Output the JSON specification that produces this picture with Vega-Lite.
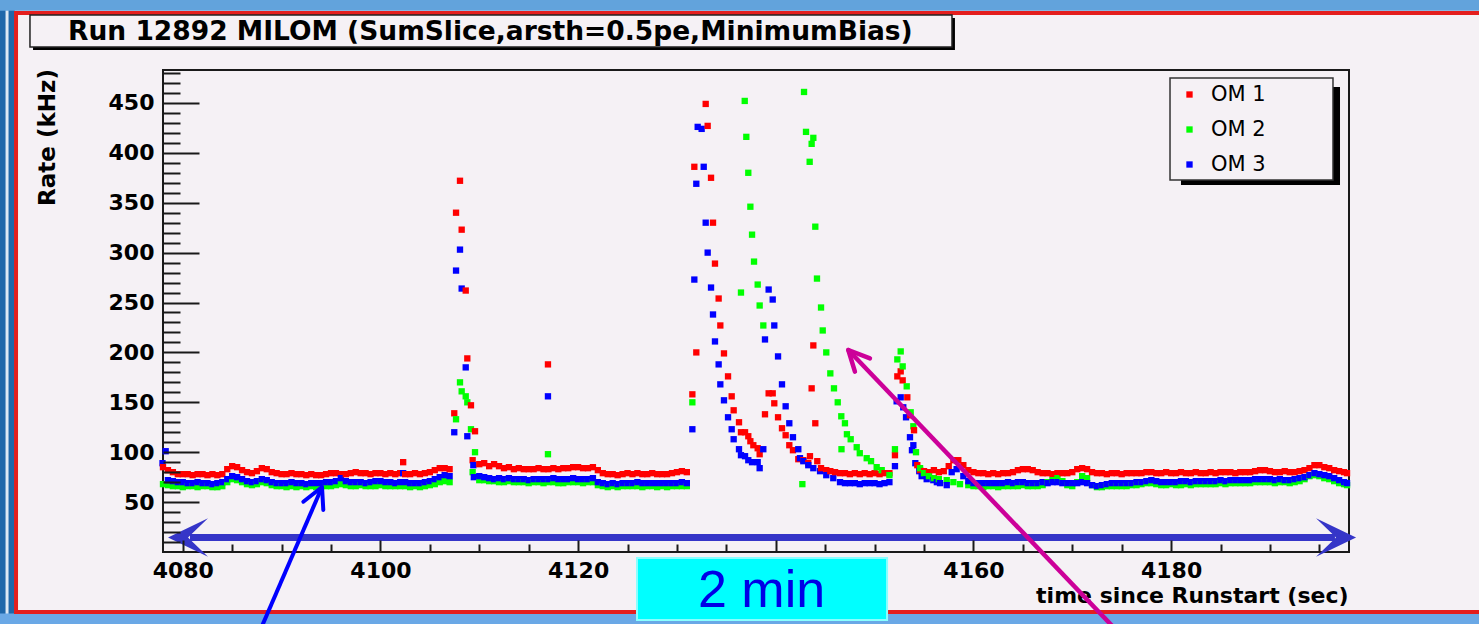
{
  "$schema": "https://vega.github.io/schema/vega-lite/v6.json",
  "width": 1186,
  "height": 482,
  "autosize": {"type": "none"},
  "padding": {"left": 163, "top": 70, "right": 130, "bottom": 72},
  "background": "#f5f1f5",
  "config": {
    "view": {"stroke": "#1a1a1a", "strokeWidth": 2, "fill": null},
    "axis": {"grid": false, "domain": false}
  },
  "resolve": {"axis": {"x": "independent", "y": "independent"}},
  "datasets": {
    "rates": [
      {"t":4077.95,"OM 3":89},
      {"t":4078.0,"OM 1":85,"OM 2":68},
      {"t":4078.27,"OM 3":101},
      {"t":4078.5,"OM 1":82,"OM 2":67,"OM 3":72},
      {"t":4079.0,"OM 1":80,"OM 2":66,"OM 3":71},
      {"t":4079.5,"OM 1":78,"OM 2":66,"OM 3":70},
      {"t":4080.0,"OM 1":78,"OM 2":65,"OM 3":70},
      {"t":4080.5,"OM 1":78,"OM 2":66,"OM 3":69},
      {"t":4081.0,"OM 1":77,"OM 2":66,"OM 3":69},
      {"t":4081.5,"OM 1":78,"OM 2":65,"OM 3":70},
      {"t":4082.0,"OM 1":78,"OM 2":66,"OM 3":69},
      {"t":4082.5,"OM 1":77,"OM 2":66,"OM 3":69},
      {"t":4083.0,"OM 1":78,"OM 2":65,"OM 3":68},
      {"t":4083.5,"OM 1":77,"OM 2":65,"OM 3":69},
      {"t":4084.0,"OM 1":78,"OM 2":66,"OM 3":70},
      {"t":4084.5,"OM 1":83,"OM 2":70,"OM 3":73},
      {"t":4085.0,"OM 1":86,"OM 2":73,"OM 3":76},
      {"t":4085.5,"OM 1":85,"OM 2":72,"OM 3":75},
      {"t":4086.0,"OM 1":82,"OM 2":70,"OM 3":73},
      {"t":4086.5,"OM 1":80,"OM 2":68,"OM 3":71},
      {"t":4087.0,"OM 1":79,"OM 2":67,"OM 3":70},
      {"t":4087.5,"OM 1":81,"OM 2":68,"OM 3":71},
      {"t":4088.0,"OM 1":84,"OM 2":70,"OM 3":73},
      {"t":4088.5,"OM 1":83,"OM 2":69,"OM 3":72},
      {"t":4089.0,"OM 1":80,"OM 2":67,"OM 3":70},
      {"t":4089.5,"OM 1":79,"OM 2":66,"OM 3":69},
      {"t":4090.0,"OM 1":78,"OM 2":66,"OM 3":69},
      {"t":4090.5,"OM 1":78,"OM 2":65,"OM 3":69},
      {"t":4091.0,"OM 1":79,"OM 2":66,"OM 3":70},
      {"t":4091.5,"OM 1":78,"OM 2":65,"OM 3":69},
      {"t":4092.0,"OM 1":78,"OM 2":66,"OM 3":69},
      {"t":4092.5,"OM 1":77,"OM 2":65,"OM 3":68},
      {"t":4093.0,"OM 1":78,"OM 2":66,"OM 3":69},
      {"t":4093.5,"OM 1":77,"OM 2":65,"OM 3":69},
      {"t":4094.0,"OM 1":77,"OM 2":66,"OM 3":69},
      {"t":4094.5,"OM 1":78,"OM 2":66,"OM 3":70},
      {"t":4095.0,"OM 1":79,"OM 2":66,"OM 3":70},
      {"t":4095.5,"OM 1":79,"OM 2":67,"OM 3":71},
      {"t":4096.0,"OM 1":78,"OM 2":68,"OM 3":74},
      {"t":4096.5,"OM 1":78,"OM 2":67,"OM 3":71},
      {"t":4097.0,"OM 1":79,"OM 2":66,"OM 3":70},
      {"t":4097.5,"OM 1":80,"OM 2":66,"OM 3":70},
      {"t":4098.0,"OM 1":79,"OM 2":67,"OM 3":70},
      {"t":4098.5,"OM 1":79,"OM 2":66,"OM 3":69},
      {"t":4099.0,"OM 1":78,"OM 2":66,"OM 3":70},
      {"t":4099.5,"OM 1":79,"OM 2":66,"OM 3":71},
      {"t":4100.0,"OM 1":79,"OM 2":67,"OM 3":71},
      {"t":4100.5,"OM 1":78,"OM 2":66,"OM 3":70},
      {"t":4101.0,"OM 1":79,"OM 2":66,"OM 3":70},
      {"t":4101.5,"OM 1":78,"OM 2":66,"OM 3":69},
      {"t":4102.0,"OM 1":79,"OM 2":66,"OM 3":70},
      {"t":4102.3,"OM 1":90,"OM 3":79},
      {"t":4102.5,"OM 1":78,"OM 2":66,"OM 3":70},
      {"t":4103.0,"OM 1":78,"OM 2":65,"OM 3":69},
      {"t":4103.5,"OM 1":79,"OM 2":66,"OM 3":69},
      {"t":4104.0,"OM 1":78,"OM 2":65,"OM 3":69},
      {"t":4104.5,"OM 1":79,"OM 2":66,"OM 3":70},
      {"t":4105.0,"OM 1":80,"OM 2":67,"OM 3":71},
      {"t":4105.5,"OM 1":82,"OM 2":68,"OM 3":73},
      {"t":4106.0,"OM 1":84,"OM 2":70,"OM 3":75},
      {"t":4106.5,"OM 1":84,"OM 2":71,"OM 3":77},
      {"t":4107.0,"OM 1":83,"OM 2":70,"OM 3":76},
      {"t":4107.47,"OM 1":139,"OM 3":120},
      {"t":4107.65,"OM 1":340,"OM 2":133,"OM 3":282},
      {"t":4108.05,"OM 1":372,"OM 2":170,"OM 3":303},
      {"t":4108.22,"OM 1":323,"OM 2":161,"OM 3":264},
      {"t":4108.63,"OM 1":262,"OM 2":156,"OM 3":185},
      {"t":4108.79,"OM 1":194,"OM 2":150,"OM 3":116},
      {"t":4109.16,"OM 1":147,"OM 2":123},
      {"t":4109.33,"OM 1":92,"OM 2":80},
      {"t":4109.4,"OM 3":87},
      {"t":4109.45,"OM 3":75},
      {"t":4109.57,"OM 1":121,"OM 2":100},
      {"t":4110.0,"OM 1":88,"OM 2":72,"OM 3":76},
      {"t":4110.5,"OM 1":89,"OM 2":72,"OM 3":75},
      {"t":4111.0,"OM 1":86,"OM 2":71,"OM 3":74},
      {"t":4111.5,"OM 1":88,"OM 2":71,"OM 3":73},
      {"t":4112.0,"OM 1":86,"OM 2":70,"OM 3":74},
      {"t":4112.5,"OM 1":84,"OM 2":70,"OM 3":73},
      {"t":4113.0,"OM 1":85,"OM 2":71,"OM 3":74},
      {"t":4113.5,"OM 1":83,"OM 2":70,"OM 3":73},
      {"t":4114.0,"OM 1":84,"OM 2":70,"OM 3":73},
      {"t":4114.5,"OM 1":83,"OM 2":70,"OM 3":73},
      {"t":4115.0,"OM 1":83,"OM 2":69,"OM 3":72},
      {"t":4115.5,"OM 1":83,"OM 2":70,"OM 3":73},
      {"t":4116.0,"OM 1":84,"OM 2":70,"OM 3":73},
      {"t":4116.5,"OM 1":83,"OM 2":69,"OM 3":73},
      {"t":4116.95,"OM 1":188,"OM 2":98,"OM 3":156},
      {"t":4117.0,"OM 1":83,"OM 2":70,"OM 3":73},
      {"t":4117.5,"OM 1":84,"OM 2":70,"OM 3":74},
      {"t":4118.0,"OM 1":83,"OM 2":69,"OM 3":73},
      {"t":4118.5,"OM 1":84,"OM 2":69,"OM 3":73},
      {"t":4119.0,"OM 1":84,"OM 2":70,"OM 3":73},
      {"t":4119.5,"OM 1":85,"OM 2":70,"OM 3":74},
      {"t":4120.0,"OM 1":85,"OM 2":70,"OM 3":73},
      {"t":4120.5,"OM 1":84,"OM 2":69,"OM 3":73},
      {"t":4121.0,"OM 1":84,"OM 2":70,"OM 3":73},
      {"t":4121.5,"OM 1":85,"OM 2":70,"OM 3":74},
      {"t":4122.0,"OM 1":82,"OM 2":67,"OM 3":70},
      {"t":4122.5,"OM 1":79,"OM 2":66,"OM 3":69},
      {"t":4123.0,"OM 1":78,"OM 2":65,"OM 3":68},
      {"t":4123.5,"OM 1":78,"OM 2":66,"OM 3":69},
      {"t":4124.0,"OM 1":77,"OM 2":65,"OM 3":68},
      {"t":4124.5,"OM 1":78,"OM 2":66,"OM 3":69},
      {"t":4125.0,"OM 1":79,"OM 2":66,"OM 3":69},
      {"t":4125.5,"OM 1":78,"OM 2":66,"OM 3":69},
      {"t":4126.0,"OM 1":79,"OM 2":66,"OM 3":70},
      {"t":4126.5,"OM 1":78,"OM 2":65,"OM 3":69},
      {"t":4127.0,"OM 1":78,"OM 2":66,"OM 3":69},
      {"t":4127.5,"OM 1":79,"OM 2":66,"OM 3":69},
      {"t":4128.0,"OM 1":78,"OM 2":65,"OM 3":69},
      {"t":4128.5,"OM 1":78,"OM 2":66,"OM 3":69},
      {"t":4129.0,"OM 1":78,"OM 2":65,"OM 3":69},
      {"t":4129.5,"OM 1":79,"OM 2":66,"OM 3":69},
      {"t":4130.0,"OM 1":80,"OM 2":66,"OM 3":69},
      {"t":4130.5,"OM 1":81,"OM 2":66,"OM 3":70},
      {"t":4131.0,"OM 1":80,"OM 2":66,"OM 3":69},
      {"t":4131.56,"OM 1":158,"OM 2":150,"OM 3":123},
      {"t":4131.76,"OM 1":386,"OM 3":273},
      {"t":4131.96,"OM 1":200,"OM 3":369},
      {"t":4132.1,"OM 3":426},
      {"t":4132.5,"OM 3":424},
      {"t":4132.71,"OM 3":386},
      {"t":4132.91,"OM 1":449,"OM 3":330},
      {"t":4133.11,"OM 1":427,"OM 3":300},
      {"t":4133.45,"OM 1":375,"OM 3":265},
      {"t":4133.65,"OM 1":330,"OM 3":238},
      {"t":4133.85,"OM 1":289,"OM 3":211},
      {"t":4134.22,"OM 1":254,"OM 3":188},
      {"t":4134.39,"OM 1":227,"OM 3":168},
      {"t":4134.76,"OM 1":199,"OM 3":152},
      {"t":4135.17,"OM 1":176,"OM 3":135},
      {"t":4135.54,"OM 1":156,"OM 3":123},
      {"t":4135.74,"OM 1":142,"OM 3":113},
      {"t":4136.28,"OM 1":130,"OM 3":103},
      {"t":4136.48,"OM 1":120,"OM 2":260,"OM 3":97},
      {"t":4136.86,"OM 2":452},
      {"t":4136.89,"OM 1":120,"OM 3":96},
      {"t":4137.02,"OM 2":416},
      {"t":4137.22,"OM 1":116,"OM 2":380,"OM 3":92},
      {"t":4137.43,"OM 1":111,"OM 2":346},
      {"t":4137.6,"OM 2":318,"OM 3":90},
      {"t":4137.73,"OM 1":107},
      {"t":4137.8,"OM 2":291},
      {"t":4138.17,"OM 1":104,"OM 2":268,"OM 3":90},
      {"t":4138.37,"OM 1":98,"OM 2":247,"OM 3":84},
      {"t":4138.74,"OM 2":227,"OM 3":103},
      {"t":4138.91,"OM 1":138,"OM 3":213},
      {"t":4139.28,"OM 1":159,"OM 3":263},
      {"t":4139.69,"OM 1":159,"OM 3":253},
      {"t":4139.85,"OM 1":149,"OM 3":227},
      {"t":4140.23,"OM 1":135,"OM 3":196},
      {"t":4140.63,"OM 1":124,"OM 3":168},
      {"t":4141.0,"OM 1":117,"OM 3":146},
      {"t":4141.37,"OM 1":107,"OM 3":129},
      {"t":4141.74,"OM 1":102,"OM 3":115},
      {"t":4142.28,"OM 1":93,"OM 3":103},
      {"t":4142.45,"OM 3":94},
      {"t":4142.69,"OM 2":68},
      {"t":4142.79,"OM 1":92,"OM 3":91},
      {"t":4142.86,"OM 2":461},
      {"t":4143.06,"OM 2":421},
      {"t":4143.29,"OM 1":89,"OM 3":87},
      {"t":4143.43,"OM 2":391},
      {"t":4143.46,"OM 1":96},
      {"t":4143.63,"OM 1":164,"OM 2":409},
      {"t":4143.8,"OM 1":207,"OM 2":415,"OM 3":84},
      {"t":4144.0,"OM 1":129,"OM 2":326},
      {"t":4144.17,"OM 2":274},
      {"t":4144.2,"OM 1":91},
      {"t":4144.48,"OM 3":81},
      {"t":4144.58,"OM 1":84,"OM 2":245},
      {"t":4144.75,"OM 2":222},
      {"t":4145.11,"OM 1":82,"OM 2":200,"OM 3":77},
      {"t":4145.52,"OM 1":81,"OM 2":179},
      {"t":4145.82,"OM 3":74},
      {"t":4145.89,"OM 2":164},
      {"t":4146.0,"OM 1":80},
      {"t":4146.27,"OM 2":150},
      {"t":4146.5,"OM 1":79,"OM 3":70},
      {"t":4146.63,"OM 2":136},
      {"t":4146.65,"OM 2":103},
      {"t":4147.0,"OM 1":79,"OM 2":129,"OM 3":69},
      {"t":4147.2,"OM 2":118},
      {"t":4147.5,"OM 1":78,"OM 3":69},
      {"t":4147.58,"OM 2":113},
      {"t":4148.0,"OM 1":79,"OM 3":69},
      {"t":4148.19,"OM 2":105},
      {"t":4148.5,"OM 1":78,"OM 2":99,"OM 3":68},
      {"t":4149.0,"OM 1":79,"OM 3":69},
      {"t":4149.2,"OM 2":94},
      {"t":4149.5,"OM 1":78,"OM 3":69},
      {"t":4149.64,"OM 2":91},
      {"t":4150.0,"OM 1":79,"OM 3":69},
      {"t":4150.21,"OM 2":85},
      {"t":4150.5,"OM 1":78,"OM 3":68},
      {"t":4150.72,"OM 2":82},
      {"t":4151.0,"OM 1":79,"OM 3":69},
      {"t":4151.5,"OM 1":79,"OM 2":77,"OM 3":70},
      {"t":4152.06,"OM 1":97,"OM 2":103,"OM 3":86},
      {"t":4152.23,"OM 3":151},
      {"t":4152.3,"OM 1":176,"OM 2":193},
      {"t":4152.64,"OM 1":181,"OM 2":201,"OM 3":155},
      {"t":4152.84,"OM 1":172,"OM 2":186},
      {"t":4152.9,"OM 3":145},
      {"t":4153.18,"OM 3":135},
      {"t":4153.25,"OM 2":166},
      {"t":4153.31,"OM 1":155},
      {"t":4153.58,"OM 1":137,"OM 3":115},
      {"t":4153.65,"OM 2":140},
      {"t":4153.78,"OM 3":102},
      {"t":4153.92,"OM 2":126,"OM 3":107},
      {"t":4153.99,"OM 1":122},
      {"t":4154.12,"OM 3":89},
      {"t":4154.19,"OM 2":100},
      {"t":4154.32,"OM 1":87},
      {"t":4154.52,"OM 3":81},
      {"t":4154.6,"OM 1":82,"OM 2":84},
      {"t":4154.76,"OM 3":76},
      {"t":4155.0,"OM 1":81,"OM 2":79},
      {"t":4155.27,"OM 3":73},
      {"t":4155.5,"OM 1":80,"OM 2":76},
      {"t":4155.94,"OM 3":72},
      {"t":4156.0,"OM 1":82,"OM 2":74},
      {"t":4156.3,"OM 3":70},
      {"t":4156.5,"OM 1":80,"OM 2":73},
      {"t":4156.62,"OM 3":69},
      {"t":4157.0,"OM 1":81},
      {"t":4157.3,"OM 2":72,"OM 3":67},
      {"t":4157.5,"OM 1":86},
      {"t":4157.8,"OM 3":80},
      {"t":4157.97,"OM 1":92,"OM 2":70},
      {"t":4158.3,"OM 3":83},
      {"t":4158.47,"OM 1":92},
      {"t":4158.64,"OM 2":68},
      {"t":4158.98,"OM 1":87,"OM 3":76},
      {"t":4159.48,"OM 1":82,"OM 2":67,"OM 3":71},
      {"t":4160.0,"OM 1":80,"OM 2":66,"OM 3":69},
      {"t":4160.5,"OM 1":79,"OM 2":66,"OM 3":69},
      {"t":4161.0,"OM 1":79,"OM 2":65,"OM 3":69},
      {"t":4161.5,"OM 1":78,"OM 2":66,"OM 3":69},
      {"t":4162.0,"OM 1":79,"OM 2":66,"OM 3":69},
      {"t":4162.5,"OM 1":78,"OM 2":65,"OM 3":69},
      {"t":4163.0,"OM 1":79,"OM 2":66,"OM 3":69},
      {"t":4163.5,"OM 1":79,"OM 2":66,"OM 3":70},
      {"t":4164.0,"OM 1":80,"OM 2":66,"OM 3":69},
      {"t":4164.5,"OM 1":82,"OM 2":66,"OM 3":70},
      {"t":4165.0,"OM 1":83,"OM 2":67,"OM 3":70},
      {"t":4165.5,"OM 1":83,"OM 2":66,"OM 3":69},
      {"t":4166.0,"OM 1":82,"OM 2":66,"OM 3":69},
      {"t":4166.5,"OM 1":80,"OM 2":66,"OM 3":69},
      {"t":4167.0,"OM 1":79,"OM 2":67,"OM 3":70},
      {"t":4167.5,"OM 1":79,"OM 2":70,"OM 3":69},
      {"t":4168.0,"OM 1":78,"OM 2":72,"OM 3":70},
      {"t":4168.5,"OM 1":79,"OM 2":74,"OM 3":70},
      {"t":4169.0,"OM 1":79,"OM 2":71,"OM 3":69},
      {"t":4169.5,"OM 1":79,"OM 2":67,"OM 3":69},
      {"t":4170.0,"OM 1":80,"OM 2":66,"OM 3":69},
      {"t":4170.5,"OM 1":83,"OM 2":70,"OM 3":69},
      {"t":4171.0,"OM 1":84,"OM 2":76,"OM 3":70},
      {"t":4171.5,"OM 1":83,"OM 2":74,"OM 3":69},
      {"t":4172.0,"OM 1":80,"OM 2":67,"OM 3":67},
      {"t":4172.5,"OM 1":79,"OM 2":65,"OM 3":66},
      {"t":4173.0,"OM 1":79,"OM 2":65,"OM 3":67},
      {"t":4173.5,"OM 1":78,"OM 2":66,"OM 3":68},
      {"t":4174.0,"OM 1":79,"OM 2":66,"OM 3":69},
      {"t":4174.5,"OM 1":79,"OM 2":66,"OM 3":69},
      {"t":4175.0,"OM 1":78,"OM 2":66,"OM 3":69},
      {"t":4175.5,"OM 1":79,"OM 2":66,"OM 3":69},
      {"t":4176.0,"OM 1":79,"OM 2":67,"OM 3":69},
      {"t":4176.5,"OM 1":79,"OM 2":67,"OM 3":70},
      {"t":4177.0,"OM 1":79,"OM 2":68,"OM 3":70},
      {"t":4177.5,"OM 1":80,"OM 2":69,"OM 3":71},
      {"t":4178.0,"OM 1":80,"OM 2":69,"OM 3":72},
      {"t":4178.5,"OM 1":79,"OM 2":68,"OM 3":71},
      {"t":4179.0,"OM 1":79,"OM 2":67,"OM 3":70},
      {"t":4179.5,"OM 1":80,"OM 2":67,"OM 3":70},
      {"t":4180.0,"OM 1":79,"OM 2":68,"OM 3":70},
      {"t":4180.5,"OM 1":79,"OM 2":67,"OM 3":70},
      {"t":4181.0,"OM 1":80,"OM 2":67,"OM 3":71},
      {"t":4181.5,"OM 1":79,"OM 2":68,"OM 3":71},
      {"t":4182.0,"OM 1":79,"OM 2":67,"OM 3":70},
      {"t":4182.5,"OM 1":80,"OM 2":68,"OM 3":71},
      {"t":4183.0,"OM 1":79,"OM 2":68,"OM 3":71},
      {"t":4183.5,"OM 1":79,"OM 2":68,"OM 3":71},
      {"t":4184.0,"OM 1":80,"OM 2":68,"OM 3":71},
      {"t":4184.5,"OM 1":79,"OM 2":68,"OM 3":71},
      {"t":4185.0,"OM 1":80,"OM 2":69,"OM 3":72},
      {"t":4185.5,"OM 1":80,"OM 2":68,"OM 3":71},
      {"t":4186.0,"OM 1":80,"OM 2":69,"OM 3":72},
      {"t":4186.5,"OM 1":79,"OM 2":69,"OM 3":72},
      {"t":4187.0,"OM 1":80,"OM 2":69,"OM 3":72},
      {"t":4187.5,"OM 1":80,"OM 2":69,"OM 3":72},
      {"t":4188.0,"OM 1":80,"OM 2":69,"OM 3":72},
      {"t":4188.5,"OM 1":81,"OM 2":70,"OM 3":73},
      {"t":4189.0,"OM 1":82,"OM 2":70,"OM 3":73},
      {"t":4189.5,"OM 1":82,"OM 2":70,"OM 3":73},
      {"t":4190.0,"OM 1":81,"OM 2":70,"OM 3":73},
      {"t":4190.5,"OM 1":80,"OM 2":69,"OM 3":72},
      {"t":4191.0,"OM 1":80,"OM 2":70,"OM 3":73},
      {"t":4191.5,"OM 1":81,"OM 2":70,"OM 3":72},
      {"t":4192.0,"OM 1":80,"OM 2":69,"OM 3":72},
      {"t":4192.5,"OM 1":80,"OM 2":70,"OM 3":73},
      {"t":4193.0,"OM 1":81,"OM 2":71,"OM 3":74},
      {"t":4193.5,"OM 1":82,"OM 2":73,"OM 3":75},
      {"t":4194.0,"OM 1":84,"OM 2":76,"OM 3":77},
      {"t":4194.5,"OM 1":87,"OM 2":77,"OM 3":79},
      {"t":4195.0,"OM 1":87,"OM 2":76,"OM 3":78},
      {"t":4195.5,"OM 1":85,"OM 2":74,"OM 3":77},
      {"t":4196.0,"OM 1":84,"OM 2":73,"OM 3":76},
      {"t":4196.5,"OM 1":82,"OM 2":71,"OM 3":74},
      {"t":4197.0,"OM 1":81,"OM 2":69,"OM 3":72},
      {"t":4197.5,"OM 1":80,"OM 2":68,"OM 3":70},
      {"t":4197.8,"OM 1":79,"OM 2":67,"OM 3":69}
    ]
  },
  "layer": [
    {
      "data": {"values": [{}]},
      "mark": {"type": "rect", "fill": "#1f67aa", "clip": false},
      "encoding": {
        "x": {"datum": 4055, "type": "quantitative", "axis": null},
        "x2": {"datum": 4063.0},
        "y": {"datum": -90, "type": "quantitative", "axis": null},
        "y2": {"datum": 570}
      }
    },
    {
      "data": {"values": [{}]},
      "mark": {"type": "rule", "color": "#dde8f4", "strokeWidth": 3, "clip": false},
      "encoding": {
        "x": {"datum": 4062.22, "type": "quantitative", "axis": null},
        "y": {"datum": -90, "type": "quantitative", "axis": null},
        "y2": {"datum": 570}
      }
    },
    {
      "data": {"values": [{}]},
      "mark": {"type": "rect", "fill": "#62a3dc", "clip": false},
      "encoding": {
        "x": {"datum": 4055, "type": "quantitative", "axis": null},
        "x2": {"datum": 4215},
        "y": {"datum": 542.3, "type": "quantitative", "axis": null},
        "y2": {"datum": 570}
      }
    },
    {
      "data": {"values": [{}]},
      "mark": {"type": "rect", "fill": "#6aa8e6", "clip": false},
      "encoding": {
        "x": {"datum": 4055, "type": "quantitative", "axis": null},
        "x2": {"datum": 4215},
        "y": {"datum": -90, "type": "quantitative", "axis": null},
        "y2": {"datum": -61.6}
      }
    },
    {
      "data": {"values": [{}]},
      "mark": {"type": "rect", "fillOpacity": 0, "stroke": "#e41e1e", "strokeWidth": 4, "clip": false},
      "encoding": {
        "x": {"datum": 4063.13, "type": "quantitative", "axis": null},
        "x2": {"datum": 4214},
        "y": {"datum": -60.1, "type": "quantitative", "axis": null},
        "y2": {"datum": 540.1}
      }
    },
    {
      "data": {"values": [{}]},
      "mark": {"type": "rect", "fill": "#000000", "clip": false},
      "encoding": {
        "x": {"datum": 4064.85, "type": "quantitative", "axis": null},
        "x2": {"datum": 4158.13},
        "y": {"datum": 503.0, "type": "quantitative", "axis": null},
        "y2": {"datum": 535.1}
      }
    },
    {
      "data": {"values": [{}]},
      "mark": {"type": "rect", "fill": "#f5f1f5", "stroke": "#222222", "strokeWidth": 1.5, "clip": false},
      "encoding": {
        "x": {"datum": 4064.54, "type": "quantitative", "axis": null},
        "x2": {"datum": 4157.83},
        "y": {"datum": 506.05, "type": "quantitative", "axis": null},
        "y2": {"datum": 538.11}
      }
    },
    {
      "data": {"values": [{}]},
      "mark": {"type": "text", "align": "left", "baseline": "middle", "font": "DejaVu Sans", "fontWeight": "bold", "fontSize": 26.5, "color": "#000000", "clip": false},
      "encoding": {
        "x": {"datum": 4068.39, "type": "quantitative", "axis": null},
        "y": {"datum": 521.1, "type": "quantitative", "axis": null},
        "text": {"value": "Run 12892 MILOM (SumSlice,arsth=0.5pe,MinimumBias)"}
      }
    },
    {
      "data": {"values": [{}]},
      "mark": {"type": "rect", "fill": "#000000", "clip": false},
      "encoding": {
        "x": {
          "datum": 4181.0, "type": "quantitative",
          "axis": {"orient": "bottom", "values": [4080,4100,4120,4140,4160,4180], "tickSize": -12, "tickWidth": 2, "tickColor": "#1a1a1a", "labels": false, "domain": false, "grid": false, "title": null, "zindex": 1}
        },
        "x2": {"datum": 4197.09},
        "y": {
          "datum": 367.76, "type": "quantitative",
          "axis": {"orient": "left", "values": [50,100,150,200,250,300,350,400,450], "tickSize": -36, "tickWidth": 2, "tickColor": "#1a1a1a", "labels": false, "domain": false, "grid": false, "title": null, "zindex": 1}
        },
        "y2": {"datum": 465.96}
      }
    },
    {
      "data": {"values": [{}]},
      "mark": {"type": "rect", "fill": "#f5f1f5", "stroke": "#333333", "strokeWidth": 1.5, "clip": false},
      "encoding": {
        "x": {
          "datum": 4179.89, "type": "quantitative",
          "axis": {"orient": "bottom", "values": [4085,4090,4095,4105,4110,4115,4125,4130,4135,4145,4150,4155,4165,4170,4175,4185,4190,4195], "tickSize": -8, "tickWidth": 2, "tickColor": "#1a1a1a", "labels": false, "domain": false, "grid": false, "title": null, "zindex": 1}
        },
        "x2": {"datum": 4196.38},
        "y": {
          "datum": 372.77, "type": "quantitative",
          "axis": {"orient": "left", "values": [10,20,30,40,60,70,80,90,110,120,130,140,160,170,180,190,210,220,230,240,260,270,280,290,310,320,330,340,360,370,380,390,410,420,430,440,460,470,480], "tickSize": -17, "tickWidth": 2, "tickColor": "#1a1a1a", "labels": false, "domain": false, "grid": false, "title": null, "zindex": 1}
        },
        "y2": {"datum": 474.98}
      }
    },
    {
      "data": {"name": "rates"},
      "transform": [
        {"fold": ["OM 1", "OM 2", "OM 3"], "as": ["series", "rate"]},
        {"filter": {"field": "rate", "valid": true}}
      ],
      "mark": {"type": "point", "shape": "square", "size": 40, "filled": true, "opacity": 1, "strokeWidth": 0, "clip": false},
      "encoding": {
        "x": {
          "field": "t", "type": "quantitative",
          "scale": {"domain": [4078, 4198], "nice": false, "zero": false},
          "axis": {"orient": "bottom", "values": [4080,4100,4120,4140,4160,4180], "format": "d", "ticks": false, "domain": false, "grid": false,
            "labelFont": "DejaVu Sans", "labelFontWeight": "bold", "labelFontSize": 22, "labelColor": "#000000", "labelPadding": 8, "labelFlush": false, "labelOverlap": false,
            "title": "time since Runstart (sec)", "titleFont": "DejaVu Sans", "titleFontWeight": "bold", "titleFontSize": 22, "titleColor": "#000000",
            "titleX": 1185, "titleY": 43, "titleAlign": "right", "titleBaseline": "middle", "titleAngle": 0}
        },
        "y": {
          "field": "rate", "type": "quantitative",
          "scale": {"domain": [0, 483], "nice": false, "zero": false},
          "axis": {"orient": "left", "values": [50,100,150,200,250,300,350,400,450], "ticks": false, "domain": false, "grid": false,
            "labelFont": "DejaVu Sans", "labelFontWeight": "bold", "labelFontSize": 22, "labelColor": "#000000", "labelPadding": 9, "labelFlush": false, "labelOverlap": false,
            "title": "Rate (kHz)", "titleFont": "DejaVu Sans", "titleFontWeight": "bold", "titleFontSize": 23, "titleColor": "#000000",
            "titleX": -116, "titleY": 67, "titleAngle": 270, "titleAlign": "center", "titleBaseline": "middle"}
        },
        "color": {
          "field": "series", "type": "nominal",
          "scale": {"domain": ["OM 1", "OM 2", "OM 3"], "range": ["#ff0000", "#00ff00", "#0000ff"]},
          "legend": {"orient": "none", "legendX": 1016, "legendY": 14, "title": null, "symbolType": "square", "symbolSize": 40, "symbolStrokeWidth": 0,
            "labelFont": "DejaVu Sans", "labelFontSize": 21, "labelColor": "#000000", "rowPadding": 13, "padding": 0, "labelOffset": 11}
        }
      }
    },
    {
      "data": {"values": [{}]},
      "mark": {"type": "rule", "color": "#3535c8", "strokeWidth": 7, "clip": false},
      "encoding": {
        "x": {"datum": 4080.73, "type": "quantitative", "axis": null},
        "x2": {"datum": 4196.58},
        "y": {"datum": 14.53, "type": "quantitative", "axis": null}
      }
    },
    {
      "data": {"values": [{}]},
      "mark": {"type": "point", "shape": "M-1,0L1,-0.96L0,0L1,0.96Z", "size": 1600, "filled": true, "opacity": 1, "color": "#3535c8", "strokeWidth": 0, "clip": false},
      "encoding": {
        "x": {"datum": 4080.53, "type": "quantitative", "axis": null},
        "y": {"datum": 14.53, "type": "quantitative", "axis": null}
      }
    },
    {
      "data": {"values": [{}]},
      "mark": {"type": "point", "shape": "M1,0L-1,-0.96L0,0L-1,0.96Z", "size": 1600, "filled": true, "opacity": 1, "color": "#3535c8", "strokeWidth": 0, "clip": false},
      "encoding": {
        "x": {"datum": 4196.69, "type": "quantitative", "axis": null},
        "y": {"datum": 14.53, "type": "quantitative", "axis": null}
      }
    },
    {
      "data": {"values": [{}]},
      "mark": {"type": "rule", "color": "#0000ff", "strokeWidth": 4, "clip": false},
      "encoding": {
        "x": {"datum": 4087.76, "type": "quantitative", "axis": null},
        "y": {"datum": -80.17, "type": "quantitative", "axis": null},
        "x2": {"datum": 4094.09},
        "y2": {"datum": 65.13}
      }
    },
    {
      "data": {"values": [{}]},
      "mark": {"type": "rule", "color": "#0000ff", "strokeWidth": 4, "strokeCap": "round", "clip": false},
      "encoding": {
        "x": {"datum": 4094.09, "type": "quantitative", "axis": null},
        "y": {"datum": 65.13, "type": "quantitative", "axis": null},
        "x2": {"datum": 4092.2},
        "y2": {"datum": 50.4}
      }
    },
    {
      "data": {"values": [{}]},
      "mark": {"type": "rule", "color": "#0000ff", "strokeWidth": 4, "strokeCap": "round", "clip": false},
      "encoding": {
        "x": {"datum": 4094.09, "type": "quantitative", "axis": null},
        "y": {"datum": 65.13, "type": "quantitative", "axis": null},
        "x2": {"datum": 4094.22},
        "y2": {"datum": 42.09}
      }
    },
    {
      "data": {"values": [{}]},
      "mark": {"type": "rule", "color": "#cc0099", "strokeWidth": 4.5, "clip": false},
      "encoding": {
        "x": {"datum": 4174.63, "type": "quantitative", "axis": null},
        "y": {"datum": -80.17, "type": "quantitative", "axis": null},
        "x2": {"datum": 4147.34},
        "y2": {"datum": 202.42}
      }
    },
    {
      "data": {"values": [{}]},
      "mark": {"type": "rule", "color": "#cc0099", "strokeWidth": 4.5, "strokeCap": "round", "clip": false},
      "encoding": {
        "x": {"datum": 4147.34, "type": "quantitative", "axis": null},
        "y": {"datum": 202.42, "type": "quantitative", "axis": null},
        "x2": {"datum": 4148.01},
        "y2": {"datum": 180.67}
      }
    },
    {
      "data": {"values": [{}]},
      "mark": {"type": "rule", "color": "#cc0099", "strokeWidth": 4.5, "strokeCap": "round", "clip": false},
      "encoding": {
        "x": {"datum": 4147.34, "type": "quantitative", "axis": null},
        "y": {"datum": 202.42, "type": "quantitative", "axis": null},
        "x2": {"datum": 4149.53},
        "y2": {"datum": 194.1}
      }
    },
    {
      "data": {"values": [{}]},
      "mark": {"type": "rect", "fill": "#00ffff", "stroke": "#8affff", "strokeWidth": 2, "clip": false},
      "encoding": {
        "x": {"datum": 4125.96, "type": "quantitative", "axis": null},
        "x2": {"datum": 4151.26},
        "y": {"datum": -68.14, "type": "quantitative", "axis": null},
        "y2": {"datum": -6.01}
      }
    },
    {
      "data": {"values": [{}]},
      "mark": {"type": "text", "align": "center", "baseline": "alphabetic", "font": "Liberation Sans", "fontSize": 52, "color": "#0000e6", "clip": false},
      "encoding": {
        "x": {"datum": 4138.56, "type": "quantitative", "axis": null},
        "y": {"datum": -55.11, "type": "quantitative", "axis": null},
        "text": {"value": "2 min"}
      }
    }
  ]
}
